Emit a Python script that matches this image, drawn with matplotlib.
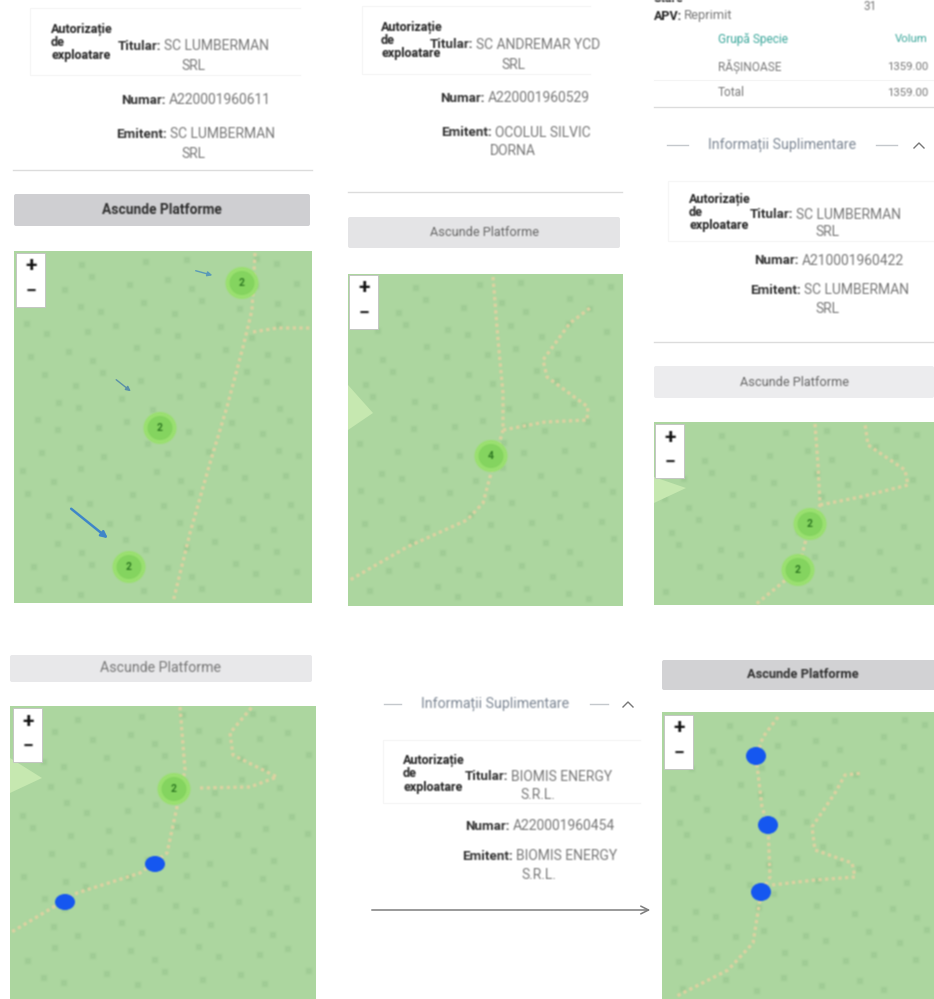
import numpy as np
from matplotlib import pyplot as plt
from matplotlib.patches import Ellipse, FancyBboxPatch, Polygon, Rectangle

plt.rcParams['font.family'] = ['Roboto', 'DejaVu Sans']

# maps: left, top, right, bottom
map_boxes = [(14, 251, 312, 603), (348, 274, 623, 606), (654, 422, 934, 605),
             (10, 706, 316, 999), (662, 712, 934, 999)]
zoom_controls = [(16, 253), (349, 275), (655, 424), (13, 708), (664, 715)]

roads = [
    [(255, 253), (252, 310), (243, 347), (227, 407), (210, 463), (190, 533), (173, 602)],
    [(253, 332), (277, 328), (312, 328)],
    [(493, 277), (498, 340), (503, 393), (503, 430), (490, 477), (483, 503), (467, 520), (407, 547), (350, 580)],
    [(503, 430), (545, 422), (587, 420), (588, 407), (547, 377), (543, 360), (570, 323), (590, 308)],
    [(815, 424), (818, 465), (820, 505), (810, 524), (798, 570), (755, 605)],
    [(820, 505), (860, 497), (908, 485), (905, 470), (868, 445), (865, 424)],
    [(180, 707), (185, 770), (177, 807), (167, 853), (140, 873), (77, 893), (10, 933)],
    [(200, 788), (250, 787), (277, 777), (233, 755), (230, 733), (252, 707)],
    [(778, 717), (763, 737), (756, 757), (762, 807), (768, 825), (770, 877), (761, 893), (753, 943), (728, 970), (675, 997)],
    [(772, 885), (815, 880), (855, 877), (852, 863), (815, 850), (812, 827), (835, 793), (845, 775), (863, 773)],
]
light_areas = [
    [(348, 385), (373, 413), (348, 430)],
    [(654, 477), (686, 488), (654, 503)],
    [(10, 758), (42, 778), (10, 793)],
]
clusters = [(242, 283, '2'), (160, 428, '2'), (129, 567, '2'), (491, 456, '4'),
            (810, 524, '2'), (798, 570, '2'), (174, 789, '2')]
blue_points = [(155, 864, 16), (65, 902, 16), (756, 756, 18), (768, 825, 18), (761, 892, 18)]
blue_arrows = [((193, 270), (215, 276), 1.0, '#5a9ab8'), ((114, 378), (133, 393), 1.0, '#5a90a8'),
               ((69, 507), (110, 540), 1.8, '#3f86c8')]

# buttons: left, top, right, bottom, colour, text colour, bold, text size
buttons = [(14, 194, 310, 226, '#cfcfd2', '#303030', True, 9.9),
           (348, 217, 620, 248, '#e4e4e6', '#666666', False, 9.2),
           (654, 366, 934, 398, '#ececee', '#666666', False, 9.2),
           (10, 655, 312, 682, '#e8e8ea', '#777777', False, 10.2),
           (662, 660, 944, 690, '#d2d2d4', '#303030', True, 9.3)]
button_label = 'Ascunde Platforme'

# x of the bold part's right edge, y, bold part, grey part
fields = [(161, 46, 'Titular:', 'SC LUMBERMAN'), (166, 100, 'Numar:', 'A220001960611'),
          (167, 134, 'Emitent:', 'SC LUMBERMAN'),
          (473, 45, 'Titular:', 'SC ANDREMAR YCD'), (485, 98, 'Numar:', 'A220001960529'),
          (492, 133, 'Emitent:', 'OCOLUL SILVIC'),
          (793, 215, 'Titular:', 'SC LUMBERMAN'), (799, 261, 'Numar:', 'A210001960422'),
          (801, 290, 'Emitent:', 'SC LUMBERMAN'),
          (508, 777, 'Titular:', 'BIOMIS ENERGY'), (510, 826, 'Numar:', 'A220001960454'),
          (513, 856, 'Emitent:', 'BIOMIS ENERGY')]
wrapped = [(193, 66, 'SRL'), (193, 154, 'SRL'), (513, 65, 'SRL'), (513, 151, 'DORNA'),
           (827, 232, 'SRL'), (827, 309, 'SRL'), (538, 795, 'S.R.L.'), (539, 875, 'S.R.L.')]
permit_titles = [(51, 29), (381, 27), (689, 199), (403, 760)]
permit_boxes = [(30, 8, 300, 75), (362, 6, 590, 74), (668, 181, 934, 241), (383, 740, 640, 803)]
divider_lines = [(13, 312, 170), (348, 622, 192), (654, 934, 107), (654, 934, 342)]

# section header: text centre, y, dash spans, caret x
sections = [(782, 145, (667, 688), (876, 897), 919), (495, 704, (384, 401), (590, 608), 628)]
section_label = 'Informații Suplimentare'

species_table = [('Grupă Specie', 'Volum', 39, '#3aa79b'),
                 ('RĂȘINOASE', '1359.00', 67, '#777777'),
                 ('Total', '1359.00', 93, '#777777')]

# small fixed nudges so the forest flecks do not sit on a perfect grid
fleck_nudge = [0, 5, -4, 7, -6, 2, -3, 6, -7, 3, 1, -5]


def soften(image, dpi):
    # screenshot is blurry, so smear each drawn artist a little
    pad = 3
    image = np.pad(image, ((pad, pad), (pad, pad), (0, 0)))
    alpha = image[..., 3:]
    img = np.concatenate([image[..., :3] * alpha, alpha], axis=2)
    for axis in (0, 1):
        img = (np.roll(img, 1, axis) + 2 * img + np.roll(img, -1, axis)) / 4
    alpha = img[..., 3:]
    img[..., :3] = img[..., :3] / np.maximum(alpha, 1e-4)
    return np.clip(img, 0, 1), -pad, -pad


fig = plt.figure(figsize=(9.34, 9.99), dpi=100)
ax = fig.add_axes([0, 0, 1, 1])
ax.set_xlim(0, 934)
ax.set_ylim(999, 0)
ax.axis('off')


def label(x, y, s, size=10, color='#777777', weight='normal', ha='center'):
    t = ax.text(x, y, s, fontsize=size, color=color, fontweight=weight, ha=ha, va='center')
    t.set_agg_filter(soften)
    return t


fleck_shape = [(-1.3, -1), (1.3, -1), (1.3, 1), (-1.3, 1)]
for l, t, r, b in map_boxes:
    ax.add_patch(Rectangle((l, t), r - l, b - t, fc='#acd69f', ec='none', zorder=1))
    xs, ys = [], []
    k = 0
    for row, y in enumerate(np.arange(t + 8, b, 24)):
        for x in np.arange(l + 6 + (row % 3) * 11, r, 33):
            fx = x + fleck_nudge[k % 12]
            fy = y + fleck_nudge[(k + 5) % 12]
            k += 1
            # keep whole flecks inside the map, the blur would spill past its edge
            if l + 6 < fx < r - 6 and t + 6 < fy < b - 6:
                xs.append(fx)
                ys.append(fy)
    flecks = ax.scatter(xs, ys, s=24, marker=fleck_shape, color='#a0cc95', lw=0, zorder=2)
    flecks.set_agg_filter(soften)

for area in light_areas:
    ax.add_patch(Polygon(area, fc='#c6e8b0', ec='none', zorder=3))

for road in roads:
    rx, ry = zip(*road)
    ln, = ax.plot(rx, ry, color='#dcd2a2', lw=2.4, ls=(0, (1.0, 1.0)), zorder=4)
    ln.set_agg_filter(soften)

for cx, cy in zoom_controls:
    ax.add_patch(Rectangle((cx, cy), 29, 54, fc='white', ec='#c0c0c0', lw=0.6, zorder=6))
    t = ax.text(cx + 15, cy + 13, '+', fontsize=15, fontweight='bold', color='#111111',
                ha='center', va='center', zorder=7)
    t.set_agg_filter(soften)
    t = ax.text(cx + 15, cy + 39, '−', fontsize=14, fontweight='bold', color='#222222',
                ha='center', va='center', zorder=7)
    t.set_agg_filter(soften)

for x, y, n in clusters:
    outer = ax.add_patch(Ellipse((x, y), 33, 32, fc='#9ae070', ec='none', zorder=5))
    inner = ax.add_patch(Ellipse((x, y), 25, 24, fc='#84d45f', ec='none', zorder=5))
    outer.set_agg_filter(soften)
    inner.set_agg_filter(soften)
    t = ax.text(x, y, n, fontsize=7.5, fontweight='bold', color='#2f7a22', ha='center', va='center', zorder=6)
    t.set_agg_filter(soften)

for x, y, h in blue_points:
    pt = ax.add_patch(Ellipse((x, y), 20, h, fc='#1557f0', ec='none', zorder=5))
    pt.set_agg_filter(soften)

for start, end, width, color in blue_arrows:
    ax.annotate('', xy=end, xytext=start, zorder=5,
                arrowprops=dict(arrowstyle='-|>', color=color, lw=width, mutation_scale=4 + 3 * width))

for l, t, r, b, face, txt, bold, size in buttons:
    ax.add_patch(FancyBboxPatch((l + 2, t + 2), r - l - 4, b - t - 4, boxstyle='round,pad=2',
                                fc=face, ec='none', zorder=2))
    label((l + r) / 2, (t + b) / 2, button_label, size=size, color=txt, weight='bold' if bold else 'normal')

for l, t, r, b in permit_boxes:
    ax.plot([r, l, l, r], [t, t, b, b], color='#f6f6f6', lw=0.9)

for x, y, bold_part, grey_part in fields:
    label(x, y, bold_part, size=9.6, color='#333333', weight='bold', ha='right')
    label(x + 3, y, grey_part, ha='left')
for x, y, s in wrapped:
    label(x, y, s)
for x, y in permit_titles:
    for i, word in enumerate(['Autorizație', 'de', 'exploatare']):
        label(x, y + i * 13.5, word, size=9, color='#222222', weight='bold', ha='left')

for x0, x1, y in divider_lines:
    ax.plot([x0, x1], [y, y], color='#dcdcdc', lw=1)

for cx, y, dash_l, dash_r, caret in sections:
    label(cx, y, section_label, size=10.2, color='#7d8794')
    ax.plot(dash_l, [y, y], color='#c4c8cc', lw=1)
    ax.plot(dash_r, [y, y], color='#c4c8cc', lw=1)
    ax.plot([caret - 5, caret, caret + 5], [y + 3, y - 2, y + 3], color='#777777', lw=1)

label(654, -1, 'Stare', size=9, color='#222222', weight='bold', ha='left')
label(870, 6, '31', size=8.5)
label(654, 16, 'APV:', size=9, color='#222222', weight='bold', ha='left')
label(684, 16, 'Reprimit', size=9.4, ha='left')
for left, right, y, color in species_table:
    label(718, y, left, size=8.6, color=color, ha='left')
    label(928, y, right, size=8.2, color=color, ha='right')
ax.plot([654, 934], [80, 80], color='#f4f4f4', lw=0.8)

# arrow between the last two screens
ax.annotate('', xy=(653, 910), xytext=(369, 910),
            arrowprops=dict(arrowstyle='->', color='#7d7d7d', lw=1.1, mutation_scale=14))

fig.savefig('out.png', dpi=100)
